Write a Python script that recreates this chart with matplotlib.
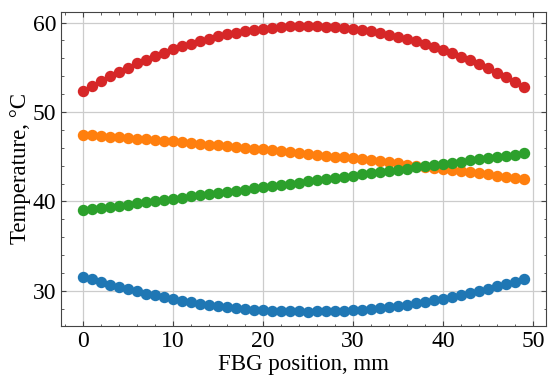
import numpy as np
import matplotlib
matplotlib.use('Agg')
import matplotlib.pyplot as plt
from matplotlib.ticker import AutoMinorLocator

# FBG positions, mm
position = np.arange(50)

# temperature profiles, degC
temp_blue = [31.59, 31.28, 30.98, 30.70, 30.43, 30.18, 29.93, 29.70, 29.48, 29.27,
             29.08, 28.90, 28.73, 28.57, 28.43, 28.30, 28.18, 28.07, 27.98, 27.90,
             27.83, 27.78, 27.73, 27.70, 27.69, 27.68, 27.69, 27.71, 27.74, 27.79,
             27.84, 27.91, 28.00, 28.09, 28.20, 28.32, 28.46, 28.60, 28.76, 28.93,
             29.12, 29.31, 29.52, 29.74, 29.98, 30.23, 30.49, 30.76, 31.04, 31.34]
temp_orange = [47.45, 47.38, 47.31, 47.24, 47.17, 47.09, 47.02, 46.94, 46.86, 46.78,
               46.70, 46.62, 46.54, 46.45, 46.36, 46.28, 46.19, 46.10, 46.01, 45.91,
               45.82, 45.72, 45.62, 45.53, 45.43, 45.33, 45.22, 45.12, 45.01, 44.91,
               44.80, 44.69, 44.58, 44.47, 44.35, 44.24, 44.12, 44.00, 43.88, 43.76,
               43.64, 43.52, 43.39, 43.27, 43.14, 43.01, 42.88, 42.75, 42.62, 42.49]
temp_green = [38.99, 39.12, 39.25, 39.38, 39.51, 39.64, 39.77, 39.90, 40.03, 40.16,
              40.29, 40.42, 40.55, 40.68, 40.81, 40.94, 41.07, 41.20, 41.33, 41.46,
              41.59, 41.72, 41.85, 41.98, 42.11, 42.24, 42.37, 42.50, 42.63, 42.76,
              42.89, 43.02, 43.15, 43.28, 43.41, 43.54, 43.67, 43.80, 43.93, 44.06,
              44.19, 44.32, 44.45, 44.58, 44.71, 44.84, 44.97, 45.10, 45.23, 45.36]
temp_red = [52.35, 52.92, 53.46, 53.99, 54.49, 54.97, 55.42, 55.85, 56.26, 56.64,
            57.00, 57.34, 57.65, 57.94, 58.21, 58.45, 58.67, 58.87, 59.04, 59.19,
            59.32, 59.42, 59.50, 59.56, 59.59, 59.60, 59.59, 59.55, 59.49, 59.40,
            59.30, 59.16, 59.01, 58.83, 58.63, 58.41, 58.16, 57.89, 57.59, 57.27,
            56.93, 56.57, 56.18, 55.77, 55.33, 54.87, 54.39, 53.89, 53.36, 52.80]

plt.rcParams['font.family'] = ['Liberation Serif', 'DejaVu Serif']

fig = plt.figure(figsize=(5.5, 3.82), dpi=100)
ax = fig.add_axes([0.111, 0.147, 0.882, 0.822])

for temps, color in [(temp_blue, 'C0'), (temp_orange, 'C1'),
                     (temp_green, 'C2'), (temp_red, 'C3')]:
    ax.plot(position, temps, 'o', color=color, markersize=7.2)

ax.set_xlabel('FBG position, mm', fontsize=16.5, labelpad=2)
ax.set_ylabel('Temperature, °C', fontsize=16.5, labelpad=1)
ax.xaxis.set_minor_locator(AutoMinorLocator(5))
ax.yaxis.set_minor_locator(AutoMinorLocator(5))
ax.tick_params(which='both', direction='in', top=True, right=True,
               labelsize=17, color='#444444')
ax.tick_params(which='major', length=3.5)
ax.tick_params(which='minor', length=1.8)
ax.grid(True, color='#cccccc', linewidth=0.9)
ax.set_axisbelow(True)
for sp in ax.spines.values():
    sp.set_color('#444444')

fig.savefig('out.png', dpi=100)
